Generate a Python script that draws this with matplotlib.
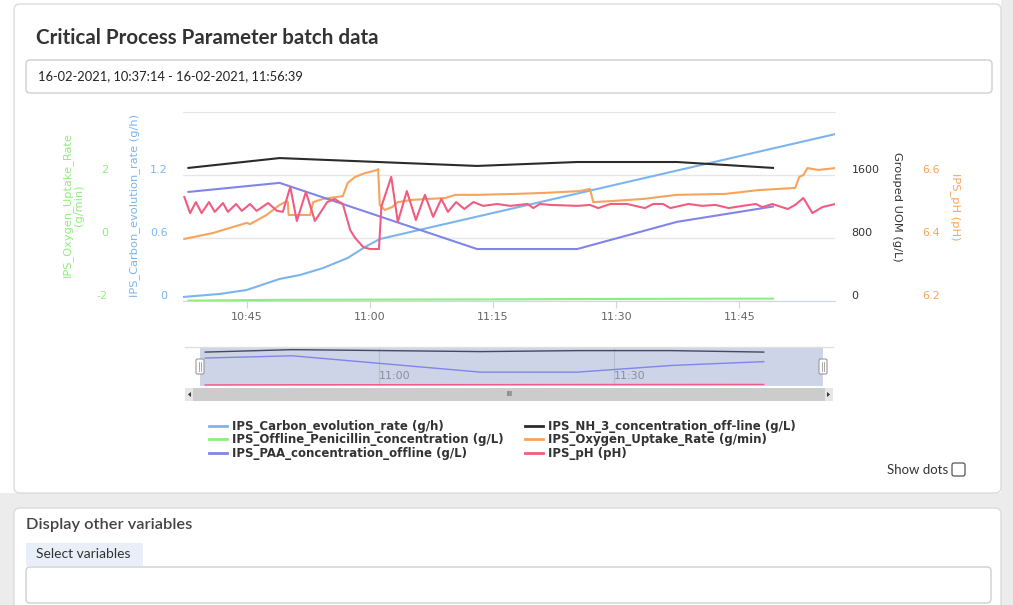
import matplotlib.pyplot as plt
import matplotlib.dates as mdates
from matplotlib.patches import FancyBboxPatch, Polygon
from matplotlib.lines import Line2D
from matplotlib.transforms import IdentityTransform
import pandas as pd

W, H = 1013, 605

t_base = pd.Timestamp('2021-02-16 10:00:00')
t_start = pd.Timestamp('2021-02-16 10:37:14')
t_end = pd.Timestamp('2021-02-16 11:56:39')

# all times are minutes after 10:00
carbon_min = [37.2, 41.7, 45.0, 49.0, 51.5, 54.3, 57.3, 59.4, 61.2, 116.7]
carbon_val = [0.038, 0.067, 0.105, 0.210, 0.248, 0.314, 0.410, 0.514, 0.590, 1.590]

offline_min = [37.9, 49.0, 73.05, 85.25, 97.4, 109.1]
nh3_val = [1690, 1815, 1715, 1765, 1765, 1690]
paa_val = [1385, 1500, 660, 660, 1005, 1200]
penicillin_val = [5, 15, 20, 25, 28, 30]

oxygen_min = [37.4, 40.9, 45.0, 45.4, 47.4, 49.0, 49.9, 50.0, 50.1, 52.7, 53.1, 54.3, 56.7,
              57.2, 57.3, 58.2, 59.4, 60.9, 61.0, 61.2, 61.8, 62.7, 63.4, 65.1, 69.2, 70.4,
              73.2, 77.7, 81.1, 85.6, 86.8, 87.2, 89.3, 93.3, 97.4, 103.3, 107.3, 111.8,
              112.3, 112.8, 113.3, 114.6, 116.7]
oxygen_val = [-0.03, 0.16, 0.48, 0.44, 0.73, 1.05, 1.17, 1.14, 0.73, 0.73, 1.14, 1.24, 1.33,
              1.68, 1.75, 1.94, 2.06, 2.16, 2.19, 1.05, 0.89, 0.98, 1.14, 1.21, 1.27, 1.37,
              1.37, 1.40, 1.43, 1.49, 1.56, 1.14, 1.17, 1.24, 1.37, 1.40, 1.52, 1.59,
              1.94, 2.00, 2.22, 2.16, 2.22]

ph_min = [37.4, 38.1, 38.8, 39.5, 40.4, 41.1, 42.1, 42.7, 43.7, 44.4, 45.4, 46.2, 47.6,
          48.7, 49.4, 50.3, 51.1, 52.2, 53.3, 54.8, 55.7, 56.7, 57.6, 58.2, 59.2, 60.0,
          61.1, 61.4, 62.6, 63.4, 64.5, 65.6, 66.7, 67.7, 68.7, 69.5, 70.5, 71.5, 72.6,
          73.8, 75.5, 77.1, 79.2, 79.9, 80.7, 82.0, 85.3, 86.8, 87.8, 89.3, 91.3, 93.5,
          94.5, 95.7, 96.6, 98.8, 100.5, 102.1, 103.7, 105.4, 107.0, 107.8, 109.0, 110.9,
          111.8, 112.8, 113.9, 115.1, 116.7]
ph_val = [6.530, 6.479, 6.514, 6.479, 6.514, 6.483, 6.511, 6.483, 6.508, 6.486, 6.508,
          6.486, 6.511, 6.486, 6.483, 6.562, 6.454, 6.546, 6.454, 6.514, 6.524, 6.508,
          6.425, 6.400, 6.371, 6.365, 6.365, 6.500, 6.594, 6.451, 6.549, 6.457, 6.537,
          6.467, 6.524, 6.483, 6.514, 6.492, 6.514, 6.502, 6.508, 6.502, 6.508, 6.495,
          6.508, 6.505, 6.502, 6.505, 6.495, 6.508, 6.508, 6.495, 6.508, 6.508, 6.495,
          6.508, 6.502, 6.505, 6.495, 6.502, 6.508, 6.498, 6.508, 6.492, 6.505, 6.527,
          6.479, 6.498, 6.508]

series_names = ['IPS_Carbon_evolution_rate (g/h)', 'IPS_Offline_Penicillin_concentration (g/L)',
                'IPS_PAA_concentration_offline (g/L)', 'IPS_NH_3_concentration_off-line (g/L)',
                'IPS_Oxygen_Uptake_Rate (g/min)', 'IPS_pH (pH)']
series_colors = ['#7cb5ec', '#90ed7d', '#8085e9', '#2b2b2b', '#f7a35c', '#f15c80']
c_carbon, c_pen, c_paa, c_nh3, c_oxy, c_ph = series_colors


def to_time(mins):
    return t_base + pd.to_timedelta(mins, unit='min')


def fx(x):
    return x / W


def fy(y):
    return 1 - y / H


def box(x0, y0, x1, y1, fc, ec='none', r=0, lw=1, z=-5):
    p = FancyBboxPatch((x0, H - y1), x1 - x0, y1 - y0,
                       boxstyle='round,pad=0,rounding_size=%s' % r,
                       transform=IdentityTransform(), fc=fc, ec=ec, lw=lw, zorder=z)
    fig.add_artist(p)


plt.rcParams['font.family'] = ['DejaVu Sans']
plt.rcParams['axes.unicode_minus'] = False
fig = plt.figure(figsize=(W / 100, H / 100), dpi=100, facecolor='white')

# page / cards
box(0, 0, W, H, '#ececec', z=-10)
box(0, 0, 1001, 493, 'white', z=-9)
box(14, 4, 1001, 493, 'white', '#dcdcdc', r=6, z=-8)
box(14, 508, 1001, 640, 'white', '#dcdcdc', r=6, z=-8)
box(26, 60, 992, 93, 'white', '#cfcfcf', r=4)
box(26, 543, 143, 566, '#e9eff8', z=-6)
box(26, 567, 991, 603, 'white', '#cfcfcf', r=4)

tfont = ['Lato', 'DejaVu Sans']
fig.text(fx(36), fy(38), 'Critical Process Parameter batch data', fontsize=14.8, fontweight='bold',
         family=tfont, color='#333333', va='center')
fig.text(fx(38), fy(76), '16-02-2021, 10:37:14 - 16-02-2021, 11:56:39', fontsize=9.3,
         family=tfont, color='#222222', va='center')
fig.text(fx(26), fy(525), 'Display other variables', fontsize=11.8, family=tfont,
         fontweight='semibold', color='#444444', va='center')
fig.text(fx(36), fy(554), 'Select variables', fontsize=10, family=tfont, color='#333333', va='center')

# main chart
L, R, T, B = 183, 835, 112, 301
ax = fig.add_axes([fx(L), fy(B), (R - L) / W, (B - T) / H])
ax.set_facecolor('none')
ax_oxy = ax.twinx()
ax_uom = ax.twinx()
ax_ph = ax.twinx()

ax.plot(to_time(carbon_min), carbon_val, color=c_carbon, lw=1.5)
ax_oxy.plot(to_time(oxygen_min), oxygen_val, color=c_oxy, lw=1.5)
ax_uom.plot(to_time(offline_min), penicillin_val, color=c_pen, lw=1.5)
ax_uom.plot(to_time(offline_min), paa_val, color=c_paa, lw=1.5)
ax_uom.plot(to_time(offline_min), nh3_val, color=c_nh3, lw=1.5)
ax_ph.plot(to_time(ph_min), ph_val, color=c_ph, lw=1.5, solid_joinstyle='round')

ax.set_ylim(0, 1.8)
ax.set_yticks([0, 0.6, 1.2])
ax.set_yticklabels(['0', '0.6', '1.2'])
ax_oxy.set_ylim(-2, 4)
ax_oxy.set_yticks([-2, 0, 2])
ax_uom.set_ylim(0, 2400)
ax_uom.set_yticks([0, 800, 1600])
ax_ph.set_ylim(6.2, 6.8)
ax_ph.set_yticks([6.2, 6.4, 6.6])
ax.set_xlim(t_start, t_end)

ax_oxy.yaxis.set_ticks_position('left')
for a in (ax, ax_oxy, ax_uom, ax_ph):
    for s in a.spines.values():
        s.set_visible(False)
ax.spines['bottom'].set_visible(True)
ax.spines['bottom'].set_color('#ccd6eb')
ax.spines['top'].set_visible(True)
ax.spines['top'].set_color('#e6e6e6')
ax.grid(axis='y', color='#e6e6e6', lw=1)
ax.set_axisbelow(True)

ax.tick_params(axis='y', length=0, pad=11, labelsize=8, labelcolor=c_carbon)
ax_oxy.tick_params(axis='y', length=0, pad=54, labelsize=8, labelcolor=c_pen)
ax_uom.tick_params(axis='y', length=0, pad=12, labelsize=8, labelcolor='#333333')
ax_ph.tick_params(axis='y', length=0, pad=63, labelsize=8, labelcolor=c_oxy)
for a in (ax, ax_oxy, ax_uom, ax_ph):
    for lab in a.get_yticklabels():
        lab.set_va('bottom')

ax.xaxis.set_major_locator(mdates.MinuteLocator(byminute=[0, 15, 30, 45]))
ax.xaxis.set_major_formatter(mdates.DateFormatter('%H:%M'))
ax.tick_params(axis='x', length=5, color='#ccd6eb', labelsize=8, labelcolor='#666666', pad=3)

fig.text(fx(73), fy(205), 'IPS_Oxygen_Uptake_Rate\n(g/min)', rotation=90, fontsize=8.2,
         color=c_pen, ha='center', va='center', multialignment='center', linespacing=1.25)
fig.text(fx(135), fy(206), 'IPS_Carbon_evolution_rate (g/h)', rotation=90, fontsize=8.2,
         color=c_carbon, ha='center', va='center')
fig.text(fx(897), fy(207), 'Grouped UOM (g/L)', rotation=270, fontsize=8.2,
         color='#333333', ha='center', va='center')
fig.text(fx(955), fy(207), 'IPS_pH (pH)', rotation=270, fontsize=8.2,
         color=c_oxy, ha='center', va='center')

# navigator
box(185, 346, 833, 387, 'white', z=-4)
fig.add_artist(Line2D([fx(185), fx(833)], [fy(347), fy(347)], color='#e0e0e0', lw=1))
nav = fig.add_axes([fx(200), fy(386), (823 - 200) / W, (386 - 348) / H])
nav.set_facecolor('#cdd4e8')
nav.plot(to_time(offline_min), nh3_val, color='#444a5a', lw=1)
nav.plot(to_time(offline_min), paa_val, color=c_paa, lw=1)
nav.plot(to_time(offline_min), penicillin_val, color=c_ph, lw=1)
nav.set_xlim(t_start, t_end)
nav.set_ylim(-50, 1900)
nav.set_yticks([])
nav.xaxis.set_major_locator(mdates.MinuteLocator(byminute=[0, 30]))
nav.xaxis.set_major_formatter(mdates.DateFormatter('%H:%M'))
nav.grid(axis='x', color='#b9bfd0', lw=0.8)
nav.tick_params(axis='x', length=0, direction='in', pad=-11, labelsize=8, labelcolor='#8a8f99')
for lab in nav.get_xticklabels():
    lab.set_ha('left')
for s in nav.spines.values():
    s.set_visible(False)

for hx in (200, 823):
    box(hx - 4, 359, hx + 4, 374, 'white', '#999999', r=1.5, lw=0.8, z=5)
    for dx in (-1.2, 1.2):
        fig.add_artist(Line2D([fx(hx + dx), fx(hx + dx)], [fy(362), fy(371)],
                              color='#999999', lw=0.6, zorder=6))

# scrollbar
box(185, 388, 833, 401, '#f2f2f2', z=-3)
box(193, 388, 825, 401, '#cccccc', z=-2)
fig.text(fx(509), fy(394.5), 'III', fontsize=5, color='#333333', ha='center', va='center')
for x0, pts in ((185, [(188, 394.5), (191, 392), (191, 397)]),
                (825, [(830, 394.5), (827, 392), (827, 397)])):
    box(x0, 388, x0 + 8, 401, '#e6e6e6', z=-1)
    fig.add_artist(Polygon([(fx(px), fy(py)) for px, py in pts], closed=True,
                           fc='#333333', ec='none'))

# legend
handles = [Line2D([], [], color=c, lw=2) for c in series_colors]
fig.legend(handles, series_names, ncol=2, loc='upper left', bbox_to_anchor=(fx(203), fy(414)),
           frameon=False, prop={'size': 8.5, 'weight': 'bold'}, handlelength=1.5,
           handletextpad=0.45, columnspacing=1.8, labelspacing=0.05, borderpad=0,
           labelcolor='#333333')

fig.text(fx(948), fy(470), 'Show dots', fontsize=9.5, family=tfont, color='#333333',
         ha='right', va='center')
box(952, 463, 965, 476, 'white', '#555555', r=2, lw=0.9, z=5)

fig.savefig('out.png', dpi=100)
